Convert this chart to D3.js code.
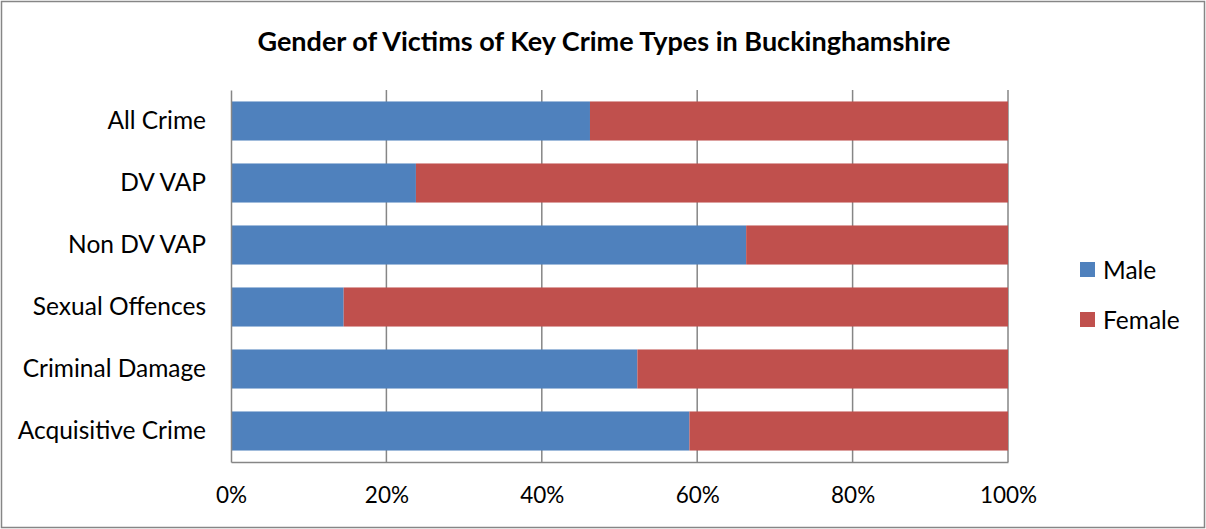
<!DOCTYPE html>
<html>
<head>
<meta charset="utf-8">
<script src="https://cdn.jsdelivr.net/npm/d3@7"></script>
<style>
  html, body { margin: 0; padding: 0; background: #fff; }
  svg { display: block; font-family: Lato, "Open Sans", "Liberation Sans", sans-serif; }
</style>
</head>
<body>
<svg id="chart" width="1206" height="529"></svg>
<script>
// Share of victims by gender for each crime type
const categories = ["All Crime", "DV VAP", "Non DV VAP", "Sexual Offences", "Criminal Damage", "Acquisitive Crime"];
const maleShare   = [0.462, 0.238, 0.663, 0.145, 0.523, 0.590];
const femaleShare = [0.538, 0.762, 0.337, 0.855, 0.477, 0.410];
const seriesNames = ["Male", "Female"];
const seriesColors = ["#4F81BD", "#C0504D"];
const tickValues = [0, 0.2, 0.4, 0.6, 0.8, 1.0];

const svg = d3.select("#chart");
const W = 1206, H = 529;
const plot = { left: 231, right: 1008, top: 90, bottom: 462 };
const font = "Lato, 'Open Sans', sans-serif";

// Outer frame
svg.append("rect")
  .attr("x", 1.5).attr("y", 1.5)
  .attr("width", W - 3).attr("height", H - 3)
  .attr("fill", "#fff").attr("stroke", "#868686").attr("stroke-width", 1.5);

// Title
svg.append("text")
  .attr("x", 604).attr("y", 51)
  .attr("text-anchor", "middle")
  .attr("font-size", 27).attr("font-weight", "bold").attr("fill", "#000")
  .text("Gender of Victims of Key Crime Types in Buckinghamshire");

const x = d3.scaleLinear().domain([0, 1]).range([plot.left, plot.right]);
const y = d3.scaleBand().domain(categories).range([plot.top, plot.bottom]).paddingInner(0.37).paddingOuter(0.185);

// Vertical gridlines
svg.append("g")
  .selectAll("line")
  .data(tickValues.slice(1))
  .join("line")
  .attr("x1", d => x(d)).attr("x2", d => x(d))
  .attr("y1", plot.top).attr("y2", plot.bottom)
  .attr("stroke", "#868686").attr("stroke-width", 1.5);

// Stacked bars
const rows = categories.map((c, i) => ({ cat: c, vals: [maleShare[i], femaleShare[i]] }));
const stacked = d3.stack().keys([0, 1]).value((d, k) => d.vals[k])(rows);

svg.append("g")
  .selectAll("g")
  .data(stacked)
  .join("g")
  .attr("fill", (d, i) => seriesColors[i])
  .selectAll("rect")
  .data(d => d)
  .join("rect")
  .attr("x", d => x(d[0]))
  .attr("y", d => y(d.data.cat))
  .attr("width", d => x(Math.min(d[1], 1)) - x(d[0]))
  .attr("height", y.bandwidth());

// Axes
const xAxis = d3.axisBottom(x).tickValues(tickValues).tickFormat(d3.format(".0%")).tickSize(0).tickPadding(25);
const gx = svg.append("g").attr("transform", `translate(0,${plot.bottom})`).call(xAxis);
gx.select(".domain").attr("stroke", "#868686").attr("stroke-width", 1.5);
gx.selectAll("text").attr("font-size", 22.5).attr("fill", "#000").attr("font-family", font);

const yAxis = d3.axisLeft(y).tickSize(0).tickPadding(25);
const gy = svg.append("g").attr("transform", `translate(${plot.left},0)`).call(yAxis);
gy.select(".domain").attr("stroke", "#868686").attr("stroke-width", 1.5);
gy.selectAll("text").attr("font-size", 24.5).attr("fill", "#000").attr("font-family", font);

// Legend
const legend = svg.append("g").attr("transform", "translate(1080,262)");
seriesNames.forEach((name, i) => {
  const g = legend.append("g").attr("transform", `translate(0,${i * 50})`);
  g.append("rect").attr("width", 15).attr("height", 15).attr("fill", seriesColors[i]);
  g.append("text").attr("x", 23).attr("y", 8).attr("dy", "0.35em")
    .attr("font-size", 24.5).attr("fill", "#000").text(name);
});
</script>
</body>
</html>
